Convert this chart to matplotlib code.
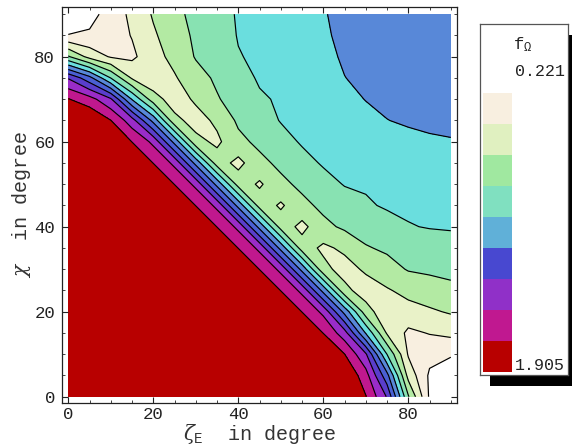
import numpy as np
import matplotlib
matplotlib.use("Agg")
import matplotlib.pyplot as plt
from matplotlib.patches import Rectangle

plt.rcParams['font.family'] = ['Liberation Mono', 'DejaVu Sans']
plt.rcParams['mathtext.fontset'] = 'custom'
plt.rcParams['mathtext.it'] = 'DejaVu Serif:italic'
plt.rcParams['mathtext.rm'] = 'Liberation Mono'

# grid of the plot (degrees)
zeta = [0, 5, 10, 15, 20, 25, 30, 35, 40, 45, 50, 55, 60, 65, 70, 75, 80, 85, 90]
chi = [0, 5, 10, 15, 20, 25, 30, 35, 40, 45, 50, 55, 60, 65, 70, 75, 80, 85, 90]

# f_Omega, in contour-band units (one row per chi value)
f_rows = [
    [13, 13, 13, 13, 13, 13, 13, 13, 13, 13, 13, 13, 13, 12.2, 11.05, 8.92, 4.11, 0.85, 0.0],
    [13, 13, 13, 13, 13, 13, 13, 13, 13, 13, 13, 13, 12.5, 12.0, 10.41, 7.33, 2.65, 0.85, 0.4],
    [13, 13, 13, 13, 13, 13, 13, 13, 13, 13, 13, 12.5, 12.0, 11.02, 9.14, 4.98, 1.9, 1.3, 1.1],
    [13, 13, 13, 13, 13, 13, 13, 13, 13, 13, 12.5, 12.0, 10.98, 9.43, 5.92, 2.87, 1.8, 2.05, 2.24],
    [13, 13, 13, 13, 13, 13, 13, 13, 13, 12.5, 12.0, 10.98, 9.75, 6.67, 3.44, 2.3, 2.63, 2.86, 3.1],
    [13, 13, 13, 13, 13, 13, 13, 13, 12.5, 12.0, 10.98, 9.75, 6.67, 3.29, 2.5, 2.9, 3.3, 3.55, 3.75],
    [13, 13, 13, 13, 13, 13, 13, 12.5, 12.0, 10.98, 9.75, 6.67, 3.3, 2.6, 3.16, 3.63, 4.07, 4.17, 4.27],
    [13, 13, 13, 13, 13, 13, 12.5, 12.0, 10.98, 9.75, 6.67, 3.5, 2.8, 3.2, 3.92, 4.16, 4.34, 4.52, 4.7],
    [13, 13, 13, 13, 13, 12.5, 12.0, 10.98, 9.75, 6.67, 3.6, 2.7, 3.74, 4.17, 4.42, 4.66, 4.95, 5.05, 5.07],
    [13, 13, 13, 13, 12.5, 12.0, 10.98, 9.75, 6.67, 3.6, 2.85, 3.73, 4.23, 4.56, 4.89, 5.1, 5.16, 5.23, 5.29],
    [13, 13, 13, 12.5, 12.0, 10.98, 9.75, 6.67, 3.6, 2.85, 3.75, 4.23, 4.65, 5.05, 5.1, 5.18, 5.27, 5.35, 5.43],
    [13, 13, 12.5, 12.0, 10.98, 9.75, 6.67, 3.5, 2.7, 3.73, 4.23, 4.68, 5.1, 5.2, 5.3, 5.4, 5.48, 5.57, 5.66],
    [13, 12.5, 12.0, 10.98, 9.75, 6.67, 3.3, 2.8, 3.74, 4.23, 4.65, 5.1, 5.25, 5.4, 5.55, 5.7, 5.85, 5.93, 5.97],
    [12.2, 12.0, 11.02, 9.43, 6.67, 3.29, 2.6, 3.2, 4.17, 4.56, 5.05, 5.2, 5.4, 5.6, 5.8, 5.99, 6.07, 6.11, 6.12],
    [11.05, 10.41, 9.14, 5.92, 3.44, 2.5, 3.16, 3.92, 4.42, 4.89, 5.1, 5.3, 5.55, 5.8, 6.02, 6.12, 6.2, 6.26, 6.28],
    [8.92, 7.33, 4.98, 2.87, 2.3, 2.9, 3.63, 4.16, 4.66, 5.1, 5.18, 5.4, 5.7, 5.99, 6.12, 6.24, 6.34, 6.41, 6.43],
    [4.11, 2.65, 1.9, 1.8, 2.63, 3.3, 4.07, 4.34, 4.95, 5.16, 5.27, 5.48, 5.85, 6.07, 6.2, 6.34, 6.46, 6.55, 6.59],
    [1.05, 1.14, 1.5, 2.05, 2.86, 3.55, 4.17, 4.52, 5.05, 5.23, 5.35, 5.57, 5.93, 6.11, 6.26, 6.41, 6.55, 6.68, 6.74],
    [0.0, 0.67, 1.4, 2.24, 3.1, 3.75, 4.27, 4.7, 5.07, 5.29, 5.43, 5.66, 5.97, 6.12, 6.28, 6.43, 6.59, 6.74, 6.9],
]

levels = [-1, 1, 2, 3, 4, 5, 6, 7, 8, 9, 10, 11, 20]
band_colors = ['#ffffff', '#f8efe0', '#e9f2c8', '#b3eaa3', '#88e2b2', '#6adede',
               '#5888d8', '#4a60d4', '#5a3ecc', '#9a2cc8', '#c0188e', '#b80000']

legend_colors = ['#f8efe0', '#e0f0c0', '#a0e8a0', '#80e0c0', '#60b0d8',
                 '#4848d0', '#9030c8', '#c01890', '#b80000']
legend_top = '0.221'
legend_bottom = '1.905'

W, H = 572, 447
fig = plt.figure(figsize=(W/100, H/100), dpi=100)

ax = fig.add_axes([62/W, 1-402.5/H, 394.7/W, 395.8/H])
Z = np.array(f_rows)
ax.contourf(zeta, chi, Z, levels=levels, colors=band_colors)
ax.contour(zeta, chi, Z, levels=levels[1:-1], colors='black', linewidths=0.85)
ax.set_xlim(-1.48, 91.39)
ax.set_ylim(-1.36, 91.76)
ax.set_xticks([0, 20, 40, 60, 80])
ax.set_yticks([0, 20, 40, 60, 80])
ax.set_xticks(np.arange(0, 91, 5), minor=True)
ax.set_yticks(np.arange(0, 91, 5), minor=True)
ax.tick_params(which='both', direction='in', top=True, right=True,
               labeltop=False, labelright=False, colors='#222222')
ax.tick_params(which='major', length=4, width=0.8, labelsize=12.5)
ax.tick_params(which='minor', length=2, width=0.6)
ax.tick_params(axis='x', pad=3)
ax.tick_params(axis='y', pad=5)
for sp in ax.spines.values():
    sp.set_linewidth(0.9)
    sp.set_color('#222222')
ax.set_xlabel(r'$\zeta_{\rm E}$  in degree', fontsize=14.5, labelpad=0, color='#333333')
ax.set_ylabel(r'$\chi$  in degree', fontsize=14.5, labelpad=1, color='#333333')

# legend with drop shadow
fig.add_artist(Rectangle((490/W, 1-386/H), 88/W, 351/H, transform=fig.transFigure,
                         facecolor='black', edgecolor='none', zorder=1))
lax = fig.add_axes([480/W, 1-375/H, 88/W, 351/H], zorder=2)
lax.set_xlim(0, 88)
lax.set_ylim(351, 0)
lax.set_xticks([])
lax.set_yticks([])
for sp in lax.spines.values():
    sp.set_linewidth(0.9)
    sp.set_color('#555555')
for k, c in enumerate(legend_colors):
    lax.add_patch(Rectangle((3, 69 + 31*k), 29, 31, facecolor=c, edgecolor='none'))
lax.text(33, 21, r'f$_{\Omega}$', fontsize=12.5, va='center', ha='left', color='#222222')
lax.text(35, 48, legend_top, fontsize=12, va='center', ha='left', color='#222222')
lax.text(35, 342, legend_bottom, fontsize=12, va='center', ha='left', color='#222222')

fig.savefig('out.png', dpi=100)
